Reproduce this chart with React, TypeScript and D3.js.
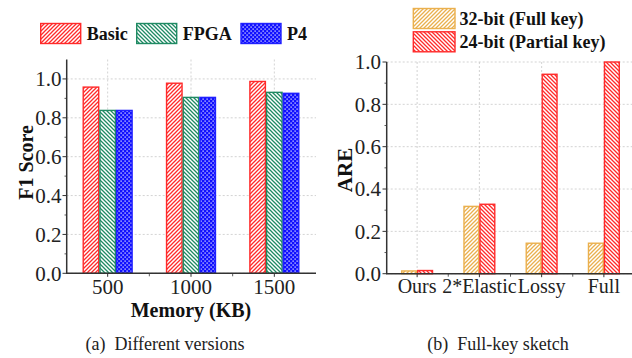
import React from "react";
import * as d3 from "d3";

const memCats = ["500", "1000", "1500"];
const versionNames = ["Basic", "FPGA", "P4"];
const basicVals = [0.958, 0.978, 0.987];
const fpgaVals = [0.838, 0.905, 0.931];
const p4Vals = [0.838, 0.905, 0.926];
const leftTicks = [0, 0.2, 0.4, 0.6, 0.8, 1.0];

const sketchCats = ["Ours", "2*Elastic", "Lossy", "Full"];
const keyNames = ["32-bit (Full key)", "24-bit (Partial key)"];
const fullKeyVals = [0.013, 0.318, 0.144, 0.144];
const partialKeyVals = [0.015, 0.328, 0.942, 1.0];
const rightTicks = [0, 0.2, 0.4, 0.6, 0.8, 1.0];

const FONT = '"Liberation Serif", "Times New Roman", serif';
const AX = "#333";
const GRID = "#c8c8c8";

export default function App() {
  const lx = d3.scaleBand<string>().domain(memCats).range([66, 316]).padding(0);
  const ly = d3.scaleLinear().domain([0, 1.1]).range([273.3, 59.5]);
  const lBarW = 16.7;
  const leftSeries = [
    { name: versionNames[0], vals: basicVals, fill: "url(#hatchRed)", stroke: "#ff2a2a" },
    { name: versionNames[1], vals: fpgaVals, fill: "url(#hatchGreen)", stroke: "#1f8a63" },
    { name: versionNames[2], vals: p4Vals, fill: "url(#dotBlue)", stroke: "#2020ff" },
  ];
  const lMinor = d3.range(1, 11, 2).map((d) => d / 10);

  const rx = d3.scaleBand<string>().domain(sketchCats).range([386, 635]).padding(0);
  const ry = d3.scaleLinear().domain([0, 1]).range([273.7, 62]);
  const rBarW = 16;
  const rightSeries = [
    { name: keyNames[0], vals: fullKeyVals, fill: "url(#hatchOrange)", stroke: "#eab04e" },
    { name: keyNames[1], vals: partialKeyVals, fill: "url(#hatchRed2)", stroke: "#ff2a2a" },
  ];
  const rMinor = d3.range(1, 11, 2).map((d) => d / 10);

  const leftLegendX = [40.7, 136.7, 241];

  return (
    <svg width={632} height={358} style={{ position: "absolute", left: 0, top: 0, fontFamily: FONT }}>
      <defs>
        <pattern id="hatchRed" patternUnits="userSpaceOnUse" width={4} height={4}>
          <rect width={4} height={4} fill="#fff" />
          <path d="M-1,1 l2,-2 M0,4 l4,-4 M3,5 l2,-2" stroke="#ff2a2a" strokeWidth={1.3} />
        </pattern>
        <pattern id="hatchRed2" patternUnits="userSpaceOnUse" width={4} height={4}>
          <rect width={4} height={4} fill="#fff" />
          <path d="M-1,3 l2,2 M0,0 l4,4 M3,-1 l2,2" stroke="#ff2a2a" strokeWidth={1.3} />
        </pattern>
        <pattern id="hatchGreen" patternUnits="userSpaceOnUse" width={4} height={4}>
          <rect width={4} height={4} fill="#fff" />
          <path d="M-1,3 l2,2 M0,0 l4,4 M3,-1 l2,2" stroke="#1f8a63" strokeWidth={1.3} />
        </pattern>
        <pattern id="hatchOrange" patternUnits="userSpaceOnUse" width={4} height={4}>
          <rect width={4} height={4} fill="#fff" />
          <path d="M-1,1 l2,-2 M0,4 l4,-4 M3,5 l2,-2" stroke="#eab04e" strokeWidth={1.3} />
        </pattern>
        <pattern id="dotBlue" patternUnits="userSpaceOnUse" width={4} height={4}>
          <rect width={4} height={4} fill="#1010ff" />
          <rect x={0.5} y={0.5} width={1.2} height={1.2} fill="#fff" />
          <rect x={2.5} y={2.5} width={1.2} height={1.2} fill="#fff" />
        </pattern>
      </defs>

      {/* ===== Left chart ===== */}
      <g>
        {leftTicks.map((t) => (
          <line key={"lg" + t} x1={66.7} x2={316} y1={ly(t)} y2={ly(t)} stroke={GRID} strokeDasharray="2,2" strokeWidth={0.8} />
        ))}
        {memCats.map((c) => {
          const cx = lx(c)! + lx.bandwidth() / 2;
          return <line key={"lvg" + c} x1={cx} x2={cx} y1={ly(1.1)} y2={ly(0)} stroke={GRID} strokeDasharray="2,2" strokeWidth={0.8} />;
        })}
        {leftSeries.map((s, si) =>
          s.vals.map((v, i) => {
            const cx = lx(memCats[i])! + lx.bandwidth() / 2;
            const x = cx - 1.5 * lBarW + si * lBarW;
            return (
              <rect key={s.name + i} x={x + 0.6} y={ly(v)} width={lBarW - 1.2} height={ly(0) - ly(v)}
                fill={s.fill} stroke={s.stroke} strokeWidth={1.4} />
            );
          })
        )}
        <line x1={66.7} x2={66.7} y1={ly(1.1)} y2={ly(0)} stroke={AX} strokeWidth={1.5} />
        <line x1={66} x2={316} y1={ly(0)} y2={ly(0)} stroke={AX} strokeWidth={1.5} />
        {leftTicks.map((t) => (
          <g key={"lt" + t}>
            <line x1={62.5} x2={66.7} y1={ly(t)} y2={ly(t)} stroke={AX} strokeWidth={1} />
            <text x={61.5} y={ly(t)} dy="0.35em" textAnchor="end" fontSize={21} fill="#222">{t.toFixed(1)}</text>
          </g>
        ))}
        {lMinor.map((t) => (
          <line key={"lm" + t} x1={64.5} x2={66.7} y1={ly(t)} y2={ly(t)} stroke={AX} strokeWidth={0.8} />
        ))}
        {memCats.map((c, i) => {
          const cx = lx(c)! + lx.bandwidth() / 2;
          return (
            <g key={"lxt" + c}>
              <line x1={cx} x2={cx} y1={ly(0)} y2={ly(0) + 3.5} stroke={AX} strokeWidth={1} />
              {i > 0 && <line x1={lx(c)!} x2={lx(c)!} y1={ly(0)} y2={ly(0) + 3} stroke={AX} strokeWidth={0.8} />}
              <text x={cx} y={294} textAnchor="middle" fontSize={21} fill="#222">{c}</text>
            </g>
          );
        })}
        <text x={191} y={317} textAnchor="middle" fontSize={20} fontWeight="bold" fill="#111">Memory (KB)</text>
        <text transform={`translate(32.5,162.5) rotate(-90)`} textAnchor="middle" fontSize={20} fontWeight="bold" fill="#111">F1 Score</text>
        {leftSeries.map((s, i) => (
          <g key={"ll" + s.name}>
            <rect x={leftLegendX[i]} y={23.5} width={40} height={20} fill={s.fill} stroke={s.stroke} strokeWidth={1.4} />
            <text x={leftLegendX[i] + 46} y={40} fontSize={18} fontWeight="bold" fill="#111">{s.name}</text>
          </g>
        ))}
        <text x={165} y={350} textAnchor="middle" fontSize={18} fill="#222">
          (a)<tspan dx={9}>Different versions</tspan>
        </text>
      </g>

      {/* ===== Right chart ===== */}
      <g>
        {rightTicks.map((t) => (
          <line key={"rg" + t} x1={386.7} x2={632} y1={ry(t)} y2={ry(t)} stroke={GRID} strokeDasharray="2,2" strokeWidth={0.8} />
        ))}
        {sketchCats.map((c) => {
          const cx = rx(c)! + rx.bandwidth() / 2;
          return <line key={"rvg" + c} x1={cx} x2={cx} y1={ry(1)} y2={ry(0)} stroke={GRID} strokeDasharray="2,2" strokeWidth={0.8} />;
        })}
        {rightSeries.map((s, si) =>
          s.vals.map((v, i) => {
            const cx = rx(sketchCats[i])! + rx.bandwidth() / 2;
            const x = cx - rBarW + si * rBarW;
            return (
              <rect key={s.name + i} x={x + 0.6} y={ry(v)} width={rBarW - 1.2} height={ry(0) - ry(v)}
                fill={s.fill} stroke={s.stroke} strokeWidth={1.4} />
            );
          })
        )}
        <line x1={386.7} x2={386.7} y1={ry(1)} y2={ry(0)} stroke={AX} strokeWidth={1.5} />
        <line x1={386} x2={632} y1={ry(0)} y2={ry(0)} stroke={AX} strokeWidth={1.5} />
        {rightTicks.map((t) => (
          <g key={"rt" + t}>
            <line x1={382.5} x2={386.7} y1={ry(t)} y2={ry(t)} stroke={AX} strokeWidth={1} />
            <text x={381} y={ry(t)} dy="0.35em" textAnchor="end" fontSize={21} fill="#222">{t.toFixed(1)}</text>
          </g>
        ))}
        {rMinor.map((t) => (
          <line key={"rm" + t} x1={384.5} x2={386.7} y1={ry(t)} y2={ry(t)} stroke={AX} strokeWidth={0.8} />
        ))}
        {sketchCats.map((c, i) => {
          const cx = rx(c)! + rx.bandwidth() / 2;
          return (
            <g key={"rxt" + c}>
              <line x1={cx} x2={cx} y1={ry(0)} y2={ry(0) + 3.5} stroke={AX} strokeWidth={1} />
              {i > 0 && <line x1={rx(c)!} x2={rx(c)!} y1={ry(0)} y2={ry(0) + 3} stroke={AX} strokeWidth={0.8} />}
              <text x={cx} y={293} textAnchor="middle" fontSize={20} fill="#222">{c}</text>
            </g>
          );
        })}
        <text transform={`translate(352,170) rotate(-90)`} textAnchor="middle" fontSize={21} fontWeight="bold" fill="#111">ARE</text>
        {rightSeries.map((s, i) => (
          <g key={"rl" + s.name}>
            <rect x={413.3} y={8.5 + i * 23.3} width={41.7} height={20} fill={s.fill} stroke={s.stroke} strokeWidth={1.4} />
            <text x={459.5} y={25 + i * 23.3} fontSize={18} fontWeight="bold" fill="#111">{s.name}</text>
          </g>
        ))}
        <text x={498} y={350} textAnchor="middle" fontSize={18} fill="#222">
          (b)<tspan dx={9}>Full-key sketch</tspan>
        </text>
      </g>
    </svg>
  );
}
